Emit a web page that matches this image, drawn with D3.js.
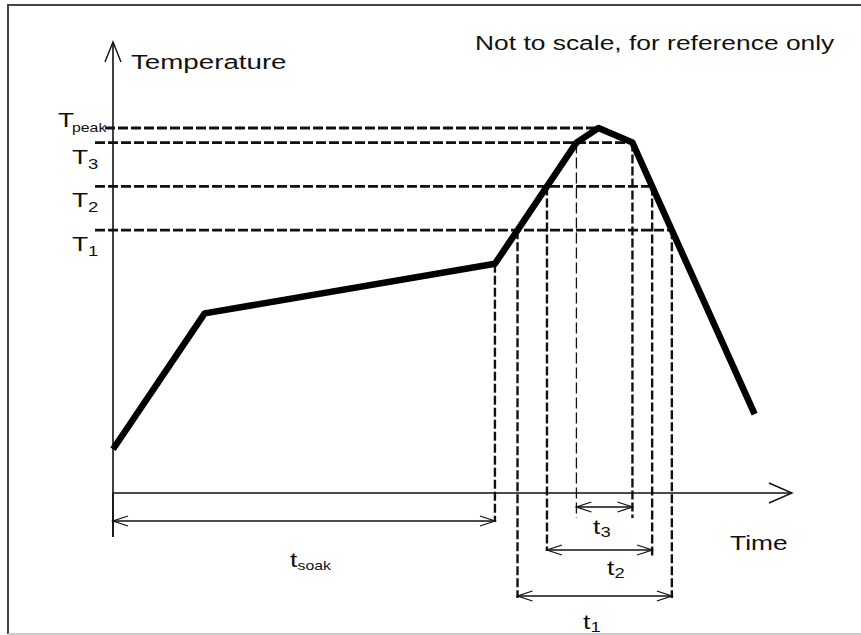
<!DOCTYPE html>
<html lang="en">
<head>
<meta charset="UTF-8">
<title>Reflow Profile</title>
<script src="https://d3js.org/d3.v7.min.js"></script>
<style>
    body {
        margin: 0;
        background-color: #fff;
    }
    svg {
        display: block;
        font-family: "Liberation Sans", Arial, sans-serif;
    }
</style>
</head>
<body>
<svg width="861" height="635"></svg>
<script>
    // profile points (arbitrary units - the sketch is not to scale)
    const profileTime = [0, 54, 225, 273, 286, 306, 378];
    const profileTemp = [30, 123, 157, 240, 250, 240, 54];

    // temperature levels
    const levelNames = ["peak", "3", "2", "1"];
    const levelTemps = [250, 240, 210, 180];

    // time spans: soak, then time above T3, T2, T1
    const spanNames = ["soak", "3", "2", "1"];
    const spanLevels = [null, 240, 210, 180];

    const SX = 1.32; // the original text is stretched horizontally
    const ink = "#111";

    const svg = d3.select("svg");

    const x = d3.scaleLinear().domain([0, 400]).range([113, 792]);
    const y = d3.scaleLinear().domain([0, 250]).range([493, 128]);

    const profile = profileTime.map((t, i) => ({t: t, T: profileTemp[i]}));

    // time where the profile crosses a level, on the rising or falling side
    function crossTime(T, rising) {
        for (let i = 2; i < profile.length - 1; i++) {
            const a = profile[i], b = profile[i + 1];
            const up = b.T > a.T;
            if (up !== rising) continue;
            const lo = Math.min(a.T, b.T), hi = Math.max(a.T, b.T);
            if (T >= lo && T <= hi) {
                return a.t + (T - a.T) / (b.T - a.T) * (b.t - a.t);
            }
        }
        return null;
    }

    function label(str, px, py, size) {
        return svg.append("text")
            .attr("transform", `translate(${px},${py}) scale(${SX},1)`)
            .attr("font-size", size)
            .attr("fill", ink)
            .text(str);
    }

    function chevron(tx, ty, dx, dy, len, hw, w) {
        // open arrow head pointing along (dx, dy)
        const px = -dy, py = dx;
        const pts = [
            [tx - dx * len + px * hw, ty - dy * len + py * hw],
            [tx, ty],
            [tx - dx * len - px * hw, ty - dy * len - py * hw]
        ];
        svg.append("path")
            .attr("d", d3.line()(pts))
            .attr("fill", "none")
            .attr("stroke", ink)
            .attr("stroke-width", w);
    }

    // frame
    svg.append("path")
        .attr("d", "M8,634 L8,5 L861,5")
        .attr("fill", "none")
        .attr("stroke", "#444")
        .attr("stroke-width", 2);
    svg.append("line")
        .attr("x1", 8).attr("x2", 861).attr("y1", 634).attr("y2", 634)
        .attr("stroke", "#bbb").attr("stroke-width", 1.5);

    // horizontal level lines
    levelTemps.forEach((T, i) => {
        const end = i === 0 ? crossTime(T, true) : crossTime(T, false);
        svg.append("line")
            .attr("x1", i === 0 ? 105 : 95)
            .attr("x2", x(end))
            .attr("y1", y(T)).attr("y2", y(T))
            .attr("stroke", ink)
            .attr("stroke-width", 2.8)
            .attr("stroke-dasharray", "10,3");
    });

    // level labels
    levelNames.forEach((name, i) => {
        const yy = y(levelTemps[i]);
        if (i === 0) {
            label("T", 58, yy - 1, 20);
            label(name, 72, yy + 4, 12);
        } else {
            label("T", 72, yy + 21, 20);
            label(name, 88, yy + 26, 14);
        }
    });

    // spans: arrow row, line bottoms, label placement (pixels)
    const rows = [
        {arrow: 521, bottomL: 537, bottomR: 522, lx: 290, ly: 567, sub: 12},
        {arrow: 507, bottomL: 518, bottomR: 518, lx: 593, ly: 534, sub: 14},
        {arrow: 550, bottomL: 551, bottomR: 557, lx: 607, ly: 575, sub: 14},
        {arrow: 596, bottomL: 598, bottomR: 598, lx: 583, ly: 629, sub: 14}
    ];

    spanNames.forEach((name, i) => {
        const r = rows[i];
        let t0, t1, topL, topR;
        if (spanLevels[i] === null) {
            t0 = profileTime[0];
            t1 = profileTime[2];
            topL = y(0);
            topR = y(profileTemp[2]);
        } else {
            t0 = crossTime(spanLevels[i], true);
            t1 = crossTime(spanLevels[i], false);
            topL = y(spanLevels[i]);
            topR = y(spanLevels[i]);
        }
        const x0 = x(t0), x1 = x(t1);

        // vertical guide lines
        if (spanLevels[i] === null) {
            svg.append("line")
                .attr("x1", x0).attr("x2", x0).attr("y1", topL).attr("y2", r.bottomL)
                .attr("stroke", ink).attr("stroke-width", 1.6);
        } else {
            svg.append("line")
                .attr("x1", x0).attr("x2", x0).attr("y1", topL).attr("y2", r.bottomL)
                .attr("stroke", ink)
                .attr("stroke-width", i === 1 ? 1.3 : 2.4)
                .attr("stroke-dasharray", i === 1 ? "11,4" : "9,3");
        }
        svg.append("line")
            .attr("x1", x1).attr("x2", x1).attr("y1", topR).attr("y2", r.bottomR)
            .attr("stroke", ink)
            .attr("stroke-width", 2.4)
            .attr("stroke-dasharray", "9,3");

        // double headed dimension arrow
        svg.append("line")
            .attr("x1", x0).attr("x2", x1).attr("y1", r.arrow).attr("y2", r.arrow)
            .attr("stroke", ink).attr("stroke-width", 1.5);
        chevron(x0, r.arrow, -1, 0, 15, 5, 1.3);
        chevron(x1, r.arrow, 1, 0, 15, 5, 1.3);

        label("t", r.lx, r.ly, 20);
        label(name, r.lx + 7.5, r.ly + 3, r.sub);
    });

    // axes
    svg.append("line")
        .attr("x1", x(0)).attr("x2", x(0))
        .attr("y1", 42).attr("y2", 537)
        .attr("stroke", ink).attr("stroke-width", 1.6);
    chevron(x(0), 42, 0, -1, 20, 8, 1.4);

    svg.append("line")
        .attr("x1", x(0)).attr("x2", x(400))
        .attr("y1", y(0)).attr("y2", y(0))
        .attr("stroke", ink).attr("stroke-width", 1.6);
    chevron(x(400), y(0), 1, 0, 23, 10, 1.4);

    // profile
    svg.append("path")
        .datum(profile)
        .attr("d", d3.line().x(d => x(d.t)).y(d => y(d.T)))
        .attr("fill", "none")
        .attr("stroke", "#000")
        .attr("stroke-width", 6.5)
        .attr("stroke-linejoin", "round");

    // texts
    label("Temperature", 131, 69, 21);
    label("Time", 730, 550, 20);
    label("Not to scale, for reference only", 475, 50, 20);
</script>
</body>
</html>
